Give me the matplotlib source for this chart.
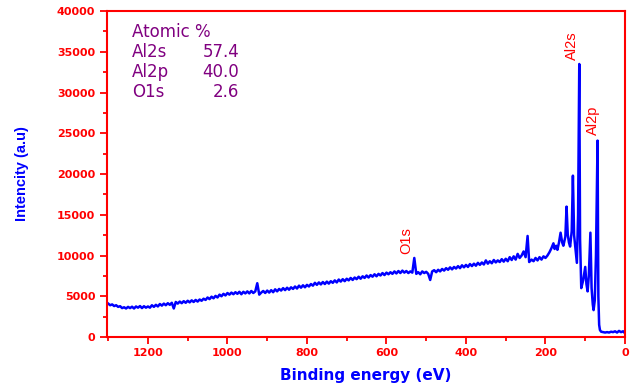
import matplotlib
matplotlib.use("Agg")
import matplotlib.pyplot as plt
from matplotlib.ticker import MultipleLocator

# Binding energy (eV): 5 eV scan grid for the background, then the peak region
energy_bg = list(range(1300, 260, -5))
energy_peaks = [
    260, 255, 250, 245, 241, 235,
    230, 225, 220, 215, 210, 205, 200, 195, 190, 185,
    180, 177, 173, 170, 166, 162, 158, 155, 150, 147,
    144, 141, 138, 134, 131, 128, 124, 121, 118, 115,
    113, 110, 105, 100, 97, 94, 91, 87, 84, 81,
    79, 76, 73, 69, 67, 65, 63, 60, 55, 50,
    45, 40, 35, 30, 25, 20, 15, 10, 5, 2, 0,
]

# Intensity (counts)
intensity_bg = [
    4100, 3900, 4000, 3800, 3900, 3700, 3780, 3550, 3650, 3500,
    3700, 3550, 3720, 3500, 3750, 3600, 3800, 3550, 3780, 3600,
    3750, 3600, 3900, 3700, 3950, 3750, 4050, 3850, 4100, 3900,
    4150, 3950, 4200, 3500, 4300, 4100, 4350, 4150, 4400, 4200,
    4450, 4250, 4500, 4300, 4550, 4350, 4600, 4450, 4700, 4550,
    4850, 4650, 4950, 4750, 5050, 4850, 5200, 5000, 5300, 5100,
    5400, 5200, 5450, 5250, 5500, 5300, 5550, 5250, 5550, 5350,
    5600, 5350, 5650, 5400, 5600, 6600, 5200, 5450, 5650, 5400,
    5700, 5450, 5750, 5500, 5850, 5600, 5900, 5700, 6000, 5750,
    6050, 5800, 6100, 5900, 6200, 5950, 6300, 6050, 6350, 6100,
    6400, 6200, 6500, 6300, 6650, 6400, 6700, 6450, 6750, 6500,
    6800, 6550, 6850, 6650, 6950, 6700, 7050, 6800, 7100, 6850,
    7150, 6950, 7250, 7000, 7300, 7100, 7400, 7150, 7450, 7250,
    7550, 7300, 7600, 7400, 7700, 7450, 7750, 7550, 7850, 7600,
    7900, 7700, 7950, 7750, 8050, 7800, 8100, 7850, 8150, 7900,
    8100, 7850, 8050, 7900, 9700, 7750, 7950, 7700, 8050, 7850,
    8000, 7750, 7000, 8050, 8200, 7950, 8250, 8050, 8350, 8150,
    8450, 8250, 8550, 8300, 8600, 8400, 8700, 8450, 8800, 8550,
    8850, 8600, 8950, 8700, 9000, 8750, 9100, 8850, 9150, 8900,
    9400, 9000, 9300, 9050, 9450, 9150, 9400, 9200, 9550, 9250,
    9600, 9300, 9800, 9450, 9900, 9500, 10200, 9700,
]
intensity_peaks = [
    10000, 10500, 9800, 12400, 9200, 9500,
    9300, 9700, 9400, 9800, 9500, 9900, 9700, 10000, 10400, 10900,
    11500, 10800, 11200, 10700, 11600, 12800, 11600, 11200, 12300, 16000,
    12600, 11600, 11100, 13000, 19800, 12500, 10500, 9100, 15000, 33500,
    12000, 6000, 7000, 8600, 6500, 5600, 7500, 12800, 6000, 4000,
    3300, 4500, 10000, 24100, 5000, 1500, 860, 650, 600, 550,
    600, 550, 650, 600, 700, 550, 750, 600, 700, 550, 700,
]

# atomic composition table
elements = ["Al2s", "Al2p", "O1s"]
atomic_pct = ["57.4", "40.0", "2.6"]

# peak labels: (text, energy, intensity)
peak_labels = [("Al2s", 134, 35800), ("Al2p", 80, 26600), ("O1s", 549, 11800)]

red = "#ff0000"
purple = "#800080"

fig = plt.figure(figsize=(6.32, 3.88), dpi=100)
ax = fig.add_axes([0.1693, 0.1314, 0.8196, 0.8402])

ax.plot(energy_bg + energy_peaks, intensity_bg + intensity_peaks,
        color="#0000ff", lw=1.8)

ax.set_xlim(1303, 0)
ax.set_ylim(0, 40000)
ax.xaxis.set_major_locator(MultipleLocator(200))
ax.xaxis.set_minor_locator(MultipleLocator(100))
ax.yaxis.set_major_locator(MultipleLocator(5000))
ax.yaxis.set_minor_locator(MultipleLocator(2500))

for sp in ax.spines.values():
    sp.set_color(red)
    sp.set_linewidth(1.5)

ax.tick_params(which="both", direction="out", color=red, width=1.3,
               top=False, right=False)
ax.tick_params(which="major", length=5)
ax.tick_params(which="minor", length=3)
ax.tick_params(axis="x", pad=3)
ax.tick_params(axis="y", pad=3.5)
for lab in ax.get_xticklabels() + ax.get_yticklabels():
    lab.set_color(red)
    lab.set_fontweight("bold")
    lab.set_fontsize(8)
    lab.set_family("DejaVu Sans")

ax.set_xlabel("Binding energy (eV)", color="#0000ff", fontsize=11,
              fontweight="bold", family="DejaVu Sans")
ax.xaxis.set_label_coords(0.5, -0.095)
ax.set_ylabel("Intencity (a.u)", color="#0000ff", fontsize=10.5,
              fontweight="bold", family="Liberation Sans")
ax.yaxis.set_label_coords(-0.151, 0.5)

# composition text
ax.text(1241, 37400, "Atomic %", color=purple, fontsize=12, va="center",
        family="DejaVu Sans")
for i, (el, pct) in enumerate(zip(elements, atomic_pct)):
    yv = 35000 - i * 2470
    ax.text(1241, yv, el, color=purple, fontsize=12, va="center",
            family="DejaVu Sans")
    ax.text(970, yv, pct, color=purple, fontsize=12, va="center", ha="right",
            family="DejaVu Sans")

for name, xv, yv in peak_labels:
    ax.text(xv, yv, name, color=red, fontsize=10.5, rotation=90,
            ha="center", va="center", family="Liberation Sans")

fig.savefig("out.png", dpi=100)
